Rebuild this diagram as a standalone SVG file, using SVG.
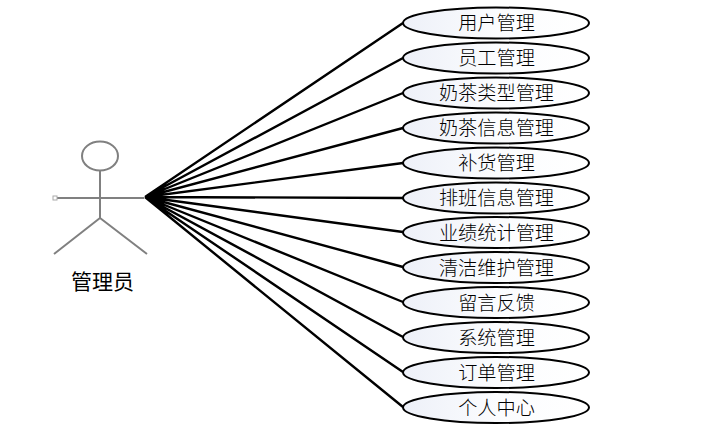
<svg xmlns="http://www.w3.org/2000/svg" width="720" height="440" viewBox="0 0 720 440">
<style>
.u{fill:url(#g);stroke:#000;stroke-width:2}
.t{font-family:"Noto Sans CJK SC","Noto Sans",sans-serif;font-size:19.200px;font-weight:300;text-anchor:middle;fill:#000}
.c{stroke:#000;stroke-width:2.400;fill:none}
.a{stroke:#808080;stroke-width:2;fill:none}
</style>
<defs><linearGradient id="g" x1="0" y1="0" x2="1" y2="0"><stop offset="0" stop-color="#edf0f8"/><stop offset="0.5" stop-color="#fbfcfe"/><stop offset="1" stop-color="#fff"/></linearGradient></defs>
<rect width="720" height="440" fill="#fff"/>
<g id="connectors">
<path class="c" d="M145 197L403 23M145 197L403 58M145 197L403 93M145 197L403 128M145 197L403 163M145 197L403 198M145 197L403 232M145 197L403 267M145 197L403 302M145 197L403 337M145 197L403 372M145 197L403 407"/>
</g>
<g id="actor">
<ellipse class="a" cx="100" cy="156" rx="18" ry="14.500"/>
<path class="a" d="M100 170V218M56 198H144M100 218L54 254M100 218L147 254"/>
<rect x="53" y="196" width="4" height="4" fill="#fff" stroke="#aaa"/>
<text x="102.500" y="288.500" class="t" style="font-size:21px;font-weight:400">管理员</text>
</g>
<g id="n1"><ellipse class="u" cx="496" cy="23" rx="93" ry="15.500"/><text class="t" x="496.500" y="30">用户管理</text></g>
<g id="n2"><ellipse class="u" cx="496" cy="58" rx="93" ry="15.500"/><text class="t" x="496.500" y="65">员工管理</text></g>
<g id="n3"><ellipse class="u" cx="496" cy="93" rx="93" ry="15.500"/><text class="t" x="496.500" y="100">奶茶类型管理</text></g>
<g id="n4"><ellipse class="u" cx="496" cy="128" rx="93" ry="15.500"/><text class="t" x="496.500" y="135">奶茶信息管理</text></g>
<g id="n5"><ellipse class="u" cx="496" cy="163" rx="93" ry="15.500"/><text class="t" x="496.500" y="170">补货管理</text></g>
<g id="n6"><ellipse class="u" cx="496" cy="198" rx="93" ry="15.500"/><text class="t" x="496.500" y="205">排班信息管理</text></g>
<g id="n7"><ellipse class="u" cx="496" cy="232.500" rx="93" ry="15.500"/><text class="t" x="496.500" y="239.500">业绩统计管理</text></g>
<g id="n8"><ellipse class="u" cx="496" cy="267.500" rx="93" ry="15.500"/><text class="t" x="496.500" y="274.500">清洁维护管理</text></g>
<g id="n9"><ellipse class="u" cx="496" cy="302.500" rx="93" ry="15.500"/><text class="t" x="496.500" y="309.500">留言反馈</text></g>
<g id="n10"><ellipse class="u" cx="496" cy="337.500" rx="93" ry="15.500"/><text class="t" x="496.500" y="344.500">系统管理</text></g>
<g id="n11"><ellipse class="u" cx="496" cy="372.500" rx="93" ry="15.500"/><text class="t" x="496.500" y="379.500">订单管理</text></g>
<g id="n12"><ellipse class="u" cx="496" cy="407.500" rx="93" ry="15.500"/><text class="t" x="496.500" y="414.500">个人中心</text></g>
</svg>
